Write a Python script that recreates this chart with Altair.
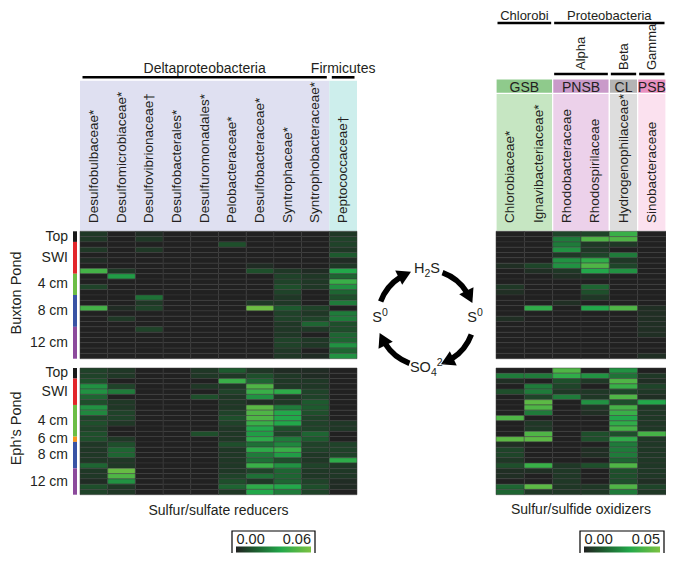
import math
import altair as alt
import pandas as pd

FONT = "Liberation Sans"
TXT = "#231f20"

# ---------------- categories ----------------
reducer_taxa = ["Desulfobulbaceae*", "Desulfomicrobiaceae*", "Desulfovibrionaceae†",
                "Desulfobacterales*", "Desulfuromonadales*", "Pelobacteraceae*",
                "Desulfobacteraceae*", "Syntrophaceae*", "Syntrophobacteraceae*",
                "Peptococcaceae†"]
reducer_group_names = ["Deltaproteobacteria", "Firmicutes"]
reducer_group_start = [0, 9]
reducer_group_end = [9, 10]
reducer_group_fill = ["#dfe0f1", "#cdeeec"]

oxidizer_taxa = ["Chlorobiaceae*", "Ignavibacteriaceae*", "Rhodobacteraceae",
                 "Rhodospirilaceae", "Hydrogenophilaceae*", "Sinobacteraceae"]
oxidizer_phylum_names = ["Chlorobi", "Proteobacteria"]
oxidizer_phylum_start = [0, 2]
oxidizer_phylum_end = [2, 6]
oxidizer_class_names = ["Alpha", "Beta", "Gamma"]
oxidizer_class_start = [2, 4, 5]
oxidizer_class_end = [4, 5, 6]
oxidizer_guild_names = ["GSB", "PNSB", "CL", "PSB"]
oxidizer_guild_start = [0, 2, 4, 5]
oxidizer_guild_end = [2, 4, 5, 6]
oxidizer_guild_band = ["#8fca8c", "#c99ac9", "#b4b4b4", "#e890c0"]
oxidizer_guild_fill = ["#c6e6c2", "#ecd1ea", "#dddddd", "#fbe1ef"]

buxton_depth_names = ["Top", "SWI", "4 cm", "8 cm", "12 cm"]
buxton_depth_start = [0, 2, 8, 12, 18]
buxton_depth_end = [2, 8, 12, 18, 24]
eph_depth_names = ["Top", "SWI", "4 cm", "6 cm", "8 cm", "12 cm"]
eph_depth_start = [0, 2, 7, 13, 14, 19]
eph_depth_end = [2, 7, 13, 14, 19, 24]
depth_colors = {"Top": "#1a1a1a", "SWI": "#e2262a", "4 cm": "#6cbd45",
                "6 cm": "#f7941d", "8 cm": "#3953a4", "12 cm": "#8c4a9c"}

N_ROWS = 24
reducer_max = 0.06
oxidizer_max = 0.05

# ---------------- values (relative abundance, per mille) ----------------
buxton_reducers_permil = [
    [6, 0, 3, 0, 0, 0, 0, 0, 0, 6],
    [6, 0, 6, 0, 0, 0, 0, 0, 0, 9],
    [0, 0, 0, 0, 0, 12, 0, 0, 0, 9],
    [6, 0, 6, 0, 0, 0, 0, 0, 0, 6],
    [0, 0, 0, 0, 0, 0, 0, 0, 0, 15],
    [3, 0, 0, 0, 0, 0, 0, 0, 0, 3],
    [0, 0, 0, 0, 0, 0, 3, 0, 0, 6],
    [45, 6, 0, 0, 0, 0, 12, 6, 3, 36],
    [0, 33, 0, 0, 0, 0, 0, 9, 6, 18],
    [0, 0, 0, 0, 0, 0, 0, 9, 6, 42],
    [9, 0, 0, 0, 0, 0, 0, 12, 6, 30],
    [0, 0, 0, 0, 0, 0, 0, 9, 0, 18],
    [0, 0, 21, 0, 0, 0, 0, 6, 0, 12],
    [0, 0, 6, 0, 0, 0, 6, 6, 0, 24],
    [45, 3, 9, 0, 0, 0, 56, 15, 9, 0],
    [0, 0, 0, 0, 0, 0, 0, 9, 6, 24],
    [0, 6, 0, 0, 0, 0, 0, 9, 9, 24],
    [0, 0, 0, 0, 0, 0, 0, 6, 18, 12],
    [0, 0, 9, 0, 0, 0, 0, 6, 6, 12],
    [0, 0, 0, 0, 0, 0, 0, 6, 0, 18],
    [0, 0, 0, 0, 0, 0, 0, 9, 6, 18],
    [0, 0, 0, 0, 0, 0, 0, 9, 6, 30],
    [0, 0, 0, 0, 0, 0, 0, 6, 0, 18],
    [0, 0, 0, 0, 0, 0, 0, 6, 3, 30],
]
eph_reducers_permil = [
    [9, 6, 0, 0, 6, 15, 6, 3, 3, 0],
    [9, 6, 0, 0, 6, 6, 12, 6, 3, 0],
    [12, 0, 0, 0, 0, 42, 18, 6, 6, 0],
    [30, 9, 0, 0, 6, 6, 48, 6, 6, 0],
    [30, 24, 0, 0, 0, 9, 42, 39, 9, 0],
    [18, 0, 0, 0, 12, 6, 30, 6, 9, 0],
    [12, 6, 0, 0, 0, 6, 3, 6, 15, 0],
    [30, 6, 0, 0, 0, 6, 51, 24, 15, 0],
    [27, 9, 0, 0, 0, 9, 48, 36, 12, 0],
    [9, 9, 0, 0, 0, 12, 48, 36, 9, 0],
    [12, 6, 0, 0, 0, 9, 42, 36, 9, 6],
    [9, 0, 0, 0, 0, 6, 36, 12, 9, 6],
    [12, 0, 0, 0, 12, 6, 33, 9, 18, 0],
    [12, 6, 0, 0, 0, 6, 39, 24, 15, 0],
    [6, 12, 0, 0, 0, 12, 21, 27, 9, 9],
    [6, 18, 0, 0, 0, 6, 39, 42, 9, 9],
    [6, 18, 0, 0, 0, 6, 24, 33, 6, 9],
    [6, 6, 0, 0, 0, 6, 21, 12, 6, 39],
    [18, 6, 0, 0, 0, 6, 42, 30, 9, 6],
    [6, 54, 0, 0, 0, 6, 9, 18, 6, 6],
    [6, 48, 0, 0, 0, 9, 21, 18, 6, 6],
    [3, 30, 0, 0, 0, 12, 6, 18, 9, 3],
    [12, 6, 0, 0, 0, 18, 39, 36, 12, 3],
    [9, 6, 0, 0, 0, 6, 36, 24, 9, 0],
]
buxton_oxidizers_permil = [
    [0, 0, 8, 8, 35, 0],
    [0, 0, 20, 40, 40, 0],
    [0, 0, 20, 5, 5, 0],
    [0, 0, 25, 5, 0, 0],
    [0, 0, 5, 8, 20, 0],
    [0, 0, 25, 33, 5, 0],
    [3, 8, 25, 40, 8, 0],
    [0, 3, 5, 30, 25, 0],
    [0, 0, 3, 3, 0, 0],
    [0, 0, 0, 0, 0, 0],
    [5, 0, 0, 15, 0, 0],
    [3, 0, 0, 10, 0, 0],
    [0, 0, 0, 5, 0, 0],
    [0, 0, 3, 0, 0, 0],
    [0, 33, 0, 30, 40, 3],
    [0, 0, 0, 0, 0, 3],
    [3, 0, 0, 0, 0, 3],
    [0, 0, 0, 0, 0, 3],
    [0, 0, 0, 0, 0, 3],
    [0, 0, 0, 0, 0, 3],
    [0, 0, 0, 0, 0, 0],
    [0, 0, 0, 0, 0, 0],
    [0, 0, 0, 0, 0, 0],
    [0, 0, 0, 0, 0, 3],
]
eph_oxidizers_permil = [
    [0, 0, 40, 0, 25, 0],
    [20, 20, 33, 25, 18, 5],
    [3, 0, 10, 5, 40, 3],
    [0, 20, 8, 0, 35, 8],
    [10, 20, 5, 5, 8, 5],
    [0, 8, 20, 5, 40, 3],
    [0, 43, 0, 25, 10, 30],
    [0, 40, 0, 5, 38, 5],
    [0, 20, 0, 3, 35, 5],
    [40, 0, 0, 0, 30, 5],
    [0, 5, 0, 0, 33, 5],
    [0, 5, 0, 0, 38, 5],
    [0, 40, 0, 10, 10, 38],
    [43, 43, 0, 10, 33, 5],
    [3, 0, 0, 0, 20, 5],
    [8, 0, 0, 3, 20, 5],
    [8, 0, 0, 3, 20, 5],
    [5, 0, 0, 0, 15, 5],
    [10, 35, 5, 10, 40, 5],
    [3, 3, 5, 0, 10, 5],
    [3, 0, 5, 0, 10, 5],
    [0, 0, 5, 0, 10, 3],
    [15, 43, 5, 5, 40, 8],
    [15, 5, 5, 5, 20, 5],
]

# colour ramp (fractions of the maximum)
RAMP_STOPS = [0.0, 0.25, 0.6, 1.0]
RAMP_COLORS = ["#212121", "#1d5a2e", "#22a84a", "#7cc242"]

# ---------------- layout (chart pixels) ----------------
W, H = 658, 545
LX = [72, 349]
RX = [488, 658]
BY = [223.3, 350.7]
EY = [360.0, 486.7]
LABEL_Y = 215


def xscale(n, rng):
    return alt.Scale(domain=[0, n], range=rng, nice=False, zero=False)


def yscale(rng):
    return alt.Scale(domain=[0, N_ROWS], range=rng, nice=False, zero=False)


def long_df(matrix, taxa):
    recs = []
    for r, vals in enumerate(matrix):
        for c, v in enumerate(vals):
            recs.append(dict(taxon=taxa[c], c0=c, c1=c + 1, r0=r, r1=r + 1,
                             value=v / 1000.0))
    return pd.DataFrame(recs)


def heat(matrix, taxa, xr, yr, cmax):
    df = long_df(matrix, taxa)
    return alt.Chart(df).mark_rect(stroke="#3a3a3a", strokeWidth=0.5).encode(
        x=alt.X("c0:Q", scale=xscale(len(taxa), xr), axis=None),
        x2="c1:Q",
        y=alt.Y("r0:Q", scale=yscale(yr), axis=None),
        y2="r1:Q",
        color=alt.Color("value:Q",
                        scale=alt.Scale(domain=[f * cmax for f in RAMP_STOPS],
                                        range=RAMP_COLORS, interpolate="rgb"),
                        legend=None),
    )


def depth_layers(names, starts, ends, yr):
    df = pd.DataFrame(dict(name=names, s=starts, e=ends,
                           fill=[depth_colors[n] for n in names]))
    df["mid"] = (df["s"] + df["e"]) / 2
    bar = alt.Chart(df).mark_rect().encode(
        x=alt.value(65), x2=alt.value(69),
        y=alt.Y("s:Q", scale=yscale(yr), axis=None), y2="e:Q",
        color=alt.Color("fill:N", scale=None))
    lab = alt.Chart(df).mark_text(align="right", baseline="middle", fontSize=14,
                                  font=FONT, color=TXT).encode(
        x=alt.value(60), y=alt.Y("mid:Q", scale=yscale(yr), axis=None), text="name:N")
    return [bar, lab]


def col_labels(taxa, xr):
    df = pd.DataFrame(dict(taxon=taxa, cm=[i + 0.5 for i in range(len(taxa))]))
    return alt.Chart(df).mark_text(angle=270, align="left", baseline="middle",
                                   fontSize=13.5, font=FONT, color=TXT).encode(
        x=alt.X("cm:Q", scale=xscale(len(taxa), xr), axis=None),
        y=alt.value(LABEL_Y), text="taxon:N")


def group_bg(names, starts, ends, fills, n, xr, y0, y1, stroke=None):
    df = pd.DataFrame(dict(name=names, s=starts, e=ends, fill=fills))
    kw = dict(stroke=stroke, strokeWidth=1.2) if stroke else {}
    return alt.Chart(df).mark_rect(**kw).encode(
        x=alt.X("s:Q", scale=xscale(n, xr), axis=None), x2="e:Q",
        y=alt.value(y0), y2=alt.value(y1),
        color=alt.Color("fill:N", scale=None))


def group_rule(names, starts, ends, n, xr, y, gap=2.5):
    df = pd.DataFrame(dict(name=names, s=starts, e=ends))
    return alt.Chart(df).mark_rule(strokeWidth=2.6, color="black",
                                   xOffset=gap, x2Offset=-gap).encode(
        x=alt.X("s:Q", scale=xscale(n, xr), axis=None), x2="e:Q", y=alt.value(y))


def group_text(names, starts, ends, n, xr, y, angle=0, align="center",
               baseline="alphabetic", size=13.5):
    df = pd.DataFrame(dict(name=names, s=starts, e=ends))
    df["m"] = (df["s"] + df["e"]) / 2
    return alt.Chart(df).mark_text(angle=angle, align=align, baseline=baseline,
                                   fontSize=size, font=FONT, color=TXT).encode(
        x=alt.X("m:Q", scale=xscale(n, xr), axis=None), y=alt.value(y), text="name:N")


def free_text(txt, x, y, angle=0, align="center", baseline="middle", size=13.5):
    return alt.Chart(pd.DataFrame({"t": [txt]})).mark_text(
        angle=angle, align=align, baseline=baseline, fontSize=size, font=FONT,
        color=TXT).encode(x=alt.value(x), y=alt.value(y), text="t:N")


def legend_box(x0, x1, y0, y1, cmax):
    grad = alt.Gradient(gradient="linear",
                        stops=[alt.GradientStop(color=c, offset=o)
                               for c, o in zip(RAMP_COLORS, RAMP_STOPS)],
                        x1=0, x2=1, y1=0, y2=0)
    box = alt.Chart(pd.DataFrame({"a": [0]})).mark_rect(
        fill="white", stroke="black", strokeWidth=1.2).encode(
        x=alt.value(x0), x2=alt.value(x1), y=alt.value(y0), y2=alt.value(y1))
    bar = alt.Chart(pd.DataFrame({"a": [0]})).mark_rect(color=grad).encode(
        x=alt.value(x0 + 4), x2=alt.value(x1 - 4), y=alt.value(y1 - 8.5),
        y2=alt.value(y1 - 2.5))
    lo = free_text(f"{0:.2f}", x0 + 4.5, y1 - 11, align="left", baseline="alphabetic",
                   size=14.5)
    hi = free_text(f"{cmax:.2f}", x1 - 4, y1 - 11, align="right", baseline="alphabetic",
                   size=14.5)
    return [box, bar, lo, hi]


# chemical formula labels built from normal / sub / superscript pieces
CHAR_W = {"H": 0.722, "S": 0.667, "O": 0.778, "0": 0.556, "2": 0.556, "4": 0.556,
          "-": 0.333}
FS_MAIN, FS_SMALL = 14.5, 10.5


def chem(parts, cx, cy):
    def width(t, fs):
        return sum(CHAR_W[ch] for ch in t) * fs
    total = sum(width(t, FS_MAIN if k == "n" else FS_SMALL) for t, k in parts)
    x = cx - total / 2
    base = cy + 5
    dy = {"n": 0, "sub": 3.5, "sup": -6.5}
    out = []
    for t, kind in parts:
        fs = FS_MAIN if kind == "n" else FS_SMALL
        out.append(free_text(t, x, base + dy[kind], align="left", baseline="alphabetic",
                             size=fs))
        x += width(t, fs)
    return out


layers = []

# left block headers
layers.append(group_bg(reducer_group_names, reducer_group_start, reducer_group_end,
                       reducer_group_fill, 10, LX, 72.7, BY[0]))
layers.append(col_labels(reducer_taxa, LX))
layers.append(group_rule(reducer_group_names, reducer_group_start, reducer_group_end,
                         10, LX, 69.3))
layers.append(group_text(reducer_group_names, reducer_group_start, reducer_group_end,
                         10, LX, 64.5, size=14))

# right block headers
layers.append(group_bg(oxidizer_guild_names, oxidizer_guild_start, oxidizer_guild_end,
                       oxidizer_guild_fill, 6, RX, 85.3, BY[0], stroke="white"))
layers.append(group_bg(oxidizer_guild_names, oxidizer_guild_start, oxidizer_guild_end,
                       oxidizer_guild_band, 6, RX, 71.0, 85.3, stroke="white"))
layers.append(group_text(oxidizer_guild_names, oxidizer_guild_start, oxidizer_guild_end,
                         6, RX, 83.5, size=14))
layers.append(col_labels(oxidizer_taxa, RX))
layers.append(group_rule(oxidizer_class_names, oxidizer_class_start, oxidizer_class_end,
                         6, RX, 66.0, gap=1.5))
layers.append(group_text(oxidizer_class_names, oxidizer_class_start, oxidizer_class_end,
                         6, RX, 62.0, angle=270, align="left", baseline="middle",
                         size=13))
layers.append(group_rule(oxidizer_phylum_names, oxidizer_phylum_start, oxidizer_phylum_end,
                         6, RX, 15.0, gap=1.5))
layers.append(group_text(oxidizer_phylum_names, oxidizer_phylum_start, oxidizer_phylum_end,
                         6, RX, 12.3, size=13))

# heatmaps
layers.append(heat(buxton_reducers_permil, reducer_taxa, LX, BY, reducer_max))
layers.append(heat(eph_reducers_permil, reducer_taxa, LX, EY, reducer_max))
layers.append(heat(buxton_oxidizers_permil, oxidizer_taxa, RX, BY, oxidizer_max))
layers.append(heat(eph_oxidizers_permil, oxidizer_taxa, RX, EY, oxidizer_max))

# depth bars and labels
layers += depth_layers(buxton_depth_names, buxton_depth_start, buxton_depth_end, BY)
layers += depth_layers(eph_depth_names, eph_depth_start, eph_depth_end, EY)
layers.append(free_text("Buxton Pond", 9, (BY[0] + BY[1]) / 2 - 2, angle=270, size=14.5))
layers.append(free_text("Eph\u2019s Pond", 9, (EY[0] + EY[1]) / 2 - 3, angle=270,
                        size=14.5))

# bottom titles and legends
layers.append(free_text("Sulfur/sulfate reducers", (LX[0] + LX[1]) / 2, 507,
                        baseline="alphabetic", size=14))
layers.append(free_text("Sulfur/sulfide oxidizers", (RX[0] + RX[1]) / 2, 506,
                        baseline="alphabetic", size=14))
layers += legend_box(224, 307, 523, 547, reducer_max)
layers += legend_box(572, 656, 523, 547, oxidizer_max)

# sulfur cycle diagram
CX, CY = 418, 310
R_OUT, R_IN = 51, 45.5
R_MID = (R_OUT + R_IN) / 2
for a in [270, 0, 90, 180]:
    s = (a + 20) % 360
    e = s + 38
    layers.append(alt.Chart(pd.DataFrame({"a": [0]})).mark_arc(
        theta=math.radians(s), theta2=math.radians(e), radius=R_OUT, radius2=R_IN,
        color="black").encode(x=alt.value(CX), y=alt.value(CY)))
    h = (e + 6) % 360
    hx = CX + R_MID * math.sin(math.radians(h))
    hy = CY - R_MID * math.cos(math.radians(h))
    layers.append(alt.Chart(pd.DataFrame({"a": [0]})).mark_point(
        shape="triangle-right", filled=True, size=250, angle=h, color="black",
        opacity=1).encode(x=alt.value(hx), y=alt.value(hy)))

layers += chem([("H", "n"), ("2", "sub"), ("S", "n")], CX + 1, CY - 50)
layers += chem([("S", "n"), ("0", "sup")], CX - 46, CY - 1)
layers += chem([("S", "n"), ("0", "sup")], CX + 49, CY - 1)
layers += chem([("S", "n"), ("O", "n"), ("4", "sub"), ("2-", "sup")], CX + 2, CY + 49)

chart = alt.layer(*layers).resolve_scale(
    x="independent", y="independent", color="independent"
).properties(
    width=W, height=H, padding=0, autosize=alt.AutoSizeParams(type="none")
).configure_view(stroke=None)

chart.save("out.html", embed_options={"renderer": "svg", "actions": False})
